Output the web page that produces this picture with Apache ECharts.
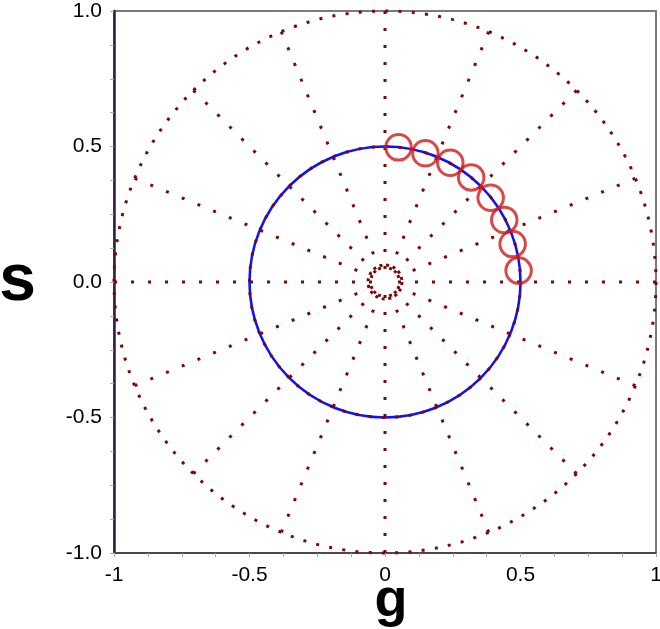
<!DOCTYPE html>
<html>
<head>
<meta charset="utf-8">
<script src="https://cdn.jsdelivr.net/npm/echarts@6/dist/echarts.min.js"></script>
<style>
html,body{margin:0;padding:0;background:#fff;}
#chart{width:660px;height:629px;}
</style>
</head>
<body>
<div id="chart"></div>
<script>
// Data: phasor points (g, s)
const gValues = [0.050, 0.149, 0.241, 0.318, 0.390, 0.440, 0.471, 0.493];
const sValues = [0.497, 0.475, 0.440, 0.386, 0.311, 0.229, 0.140, 0.042];
// Tick labels
const xTickLabels = ['-1', '-0.5', '0', '0.5', '1'];
const yTickLabels = ['-1.0', '-0.5', '0.0', '0.5', '1.0'];
const majorTicks = [-1, -0.5, 0, 0.5, 1];
// Reference circles (radius in data units)
const outerRadius = 1;
const universalRadius = 0.5;
const innerRadius = 0.0625;

const gridLeft = 114, gridTop = 11, gridSize = 542;
const cx = gridLeft + gridSize / 2, cy = gridTop + gridSize / 2;
const unit = gridSize / 2;

const dotRed = '#7a0808';
const font = 'Liberation Sans, Arial, sans-serif';

function labelFor(list) {
  return function (v) {
    const i = majorTicks.findIndex(m => Math.abs(m - v) < 1e-9);
    return i >= 0 ? list[i] : '';
  };
}

const chart = echarts.init(document.getElementById('chart'));
const option = {
  animation: false,
  backgroundColor: '#fff',
  grid: {
    left: gridLeft, top: gridTop, width: gridSize, height: gridSize,
    containLabel: false, outerBoundsMode: 'none',
    show: true, borderColor: '#7a7a7a', borderWidth: 2, backgroundColor: 'transparent'
  },
  xAxis: {
    type: 'value', min: -1, max: 1, interval: 0.125,
    name: 'g', nameLocation: 'middle', nameGap: 21, nameMoveOverlap: false,
    nameTextStyle: { fontSize: 54, fontWeight: 'bold', fontFamily: font, color: '#000', padding: [0, 0, 0, 12] },
    axisLine: { show: true, onZero: false, lineStyle: { color: '#4a4a4a', width: 2 } },
    axisTick: { show: true, length: 4, lineStyle: { color: '#aaaaaa', width: 1 } },
    axisLabel: { formatter: labelFor(xTickLabels), fontSize: 21, fontFamily: font, color: '#000', margin: 12 },
    splitLine: { show: false }
  },
  yAxis: {
    type: 'value', min: -1, max: 1, interval: 0.125,
    name: 's', nameLocation: 'middle', nameRotate: 0, nameGap: 78, nameMoveOverlap: false,
    nameTextStyle: { fontSize: 66, fontWeight: 'bold', fontFamily: font, color: '#000' },
    axisLine: { show: true, onZero: false, lineStyle: { color: '#2e1f3f', width: 2.5 } },
    axisTick: { show: true, length: 4, lineStyle: { color: '#aaaaaa', width: 1 } },
    axisLabel: { formatter: labelFor(yTickLabels), fontSize: 21, fontFamily: font, color: '#000', margin: 12 },
    splitLine: { show: false }
  },
  polar: [
    { center: [cx, cy], radius: unit * outerRadius },
    { center: [cx, cy], radius: unit * universalRadius },
    { center: [cx, cy], radius: unit * innerRadius }
  ],
  angleAxis: [
    {
      polarIndex: 0, type: 'value', min: 0, max: 360, interval: 22.5, startAngle: 0, z: 1,
      axisLine: { show: true, lineStyle: { color: dotRed, width: 3, type: [3, 10.3] } },
      axisTick: { show: false }, axisLabel: { show: false },
      splitLine: { show: true, lineStyle: { color: dotRed, width: 3, type: [3, 14] } }
    },
    {
      polarIndex: 1, type: 'value', min: 0, max: 360, interval: 90, startAngle: 0, z: 1,
      axisLine: { show: true, lineStyle: { color: '#1010ff', width: 2.6, type: 'solid' } },
      axisTick: { show: false }, axisLabel: { show: false }, splitLine: { show: false }
    },
    {
      polarIndex: 2, type: 'value', min: 0, max: 360, interval: 90, startAngle: 0, z: 1,
      axisLine: { show: true, lineStyle: { color: dotRed, width: 3, type: [3, 3.7] } },
      axisTick: { show: false }, axisLabel: { show: false }, splitLine: { show: false }
    }
  ],
  radiusAxis: [
    {
      polarIndex: 0, type: 'value', min: 0, max: 1, interval: 1,
      axisLine: { show: false }, axisTick: { show: false }, axisLabel: { show: false }, splitLine: { show: false }
    },
    {
      polarIndex: 1, type: 'value', min: 0, max: 1, interval: 1, z: 2,
      axisLine: { show: false }, axisTick: { show: false }, axisLabel: { show: false },
      splitLine: { show: true, lineStyle: { color: dotRed, width: 3, type: [3, 10.3] } }
    },
    {
      polarIndex: 2, type: 'value', min: 0, max: 1, interval: 1,
      axisLine: { show: false }, axisTick: { show: false }, axisLabel: { show: false }, splitLine: { show: false }
    }
  ],
  series: [
    {
      type: 'scatter',
      coordinateSystem: 'cartesian2d',
      data: gValues.map((g, i) => [g, sValues[i]]),
      symbol: 'circle',
      symbolSize: 25.5,
      itemStyle: { color: 'rgba(0,0,0,0)', borderColor: '#d01a1a', borderWidth: 3 },
      z: 5
    }
  ]
};
chart.setOption(option);
</script>
</body>
</html>
